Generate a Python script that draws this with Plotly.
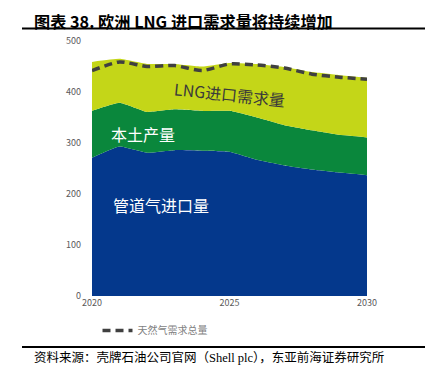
import plotly.graph_objects as go

years = [2020, 2021, 2022, 2023, 2024, 2025, 2026, 2027, 2028, 2029, 2030]
pipeline = [271, 293, 281, 286, 285, 283, 267, 256, 248, 242, 237]
domestic = [92, 86, 80, 80, 78, 80, 83, 79, 77, 74, 74]
lng = [96, 86, 94, 89, 87, 94, 105, 114, 114, 117, 117]
total_demand = [442, 459, 450, 452, 442, 455, 453, 447, 435, 429, 425]

series_names = ["管道气进口量", "本土产量", "LNG进口需求量"]
legend_name = "天然气需求总量"
title_text = "图表 38. 欧洲 LNG 进口需求量将持续增加"
source_text = "资料来源：壳牌石油公司官网（Shell plc），东亚前海证券研究所"
x_ticks = [2020, 2025, 2030]
y_ticks = [0, 100, 200, 300, 400, 500]

CJK = "Noto Sans CJK SC, sans-serif"

fig = go.Figure()
colors = ["#04388C", "#0A873C", "#C4D618"]
for name, vals, c in zip(series_names, [pipeline, domestic, lng], colors):
    fig.add_trace(go.Scatter(
        x=years, y=vals, name=name, stackgroup="one", mode="lines",
        line=dict(width=0, color=c, shape="spline", smoothing=0.4),
        fillcolor=c, showlegend=False, hoverinfo="skip"))

fig.add_trace(go.Scatter(
    x=years, y=total_demand, name=legend_name, mode="lines",
    line=dict(color="#404040", width=3.5, dash="8px,5px", shape="spline", smoothing=0.6),
    showlegend=True))

# page body has an 8px margin, so the figure is 8px smaller and everything is offset
fig.update_layout(
    width=430, height=367,
    margin=dict(l=84, r=71, t=33, b=79),
    paper_bgcolor="white", plot_bgcolor="white",
    font=dict(family=CJK, size=9, color="#595959"),
    xaxis=dict(range=[2020, 2030], tickvals=x_ticks, showgrid=False, zeroline=False,
               showline=False, ticks="", tickfont=dict(size=9, color="#595959")),
    yaxis=dict(range=[0, 500], tickvals=y_ticks, showgrid=True, gridcolor="#E6E6E6",
               zeroline=False, showline=False, ticks="", ticklabelstandoff=10,
               tickfont=dict(size=9, color="#595959")),
    showlegend=True,
    legend=dict(orientation="h", x=0.02, y=-0.135, xanchor="left", yanchor="middle",
                font=dict(size=10, color="#7F7F7F", family=CJK), bgcolor="rgba(0,0,0,0)",
                itemwidth=30),
)

# in-plot labels
fig.add_annotation(x=2025.0, y=396, xref="x", yref="y", text="LNG进口需求量", showarrow=False,
                   textangle=6, font=dict(size=16, color="#3A3A3A", family=CJK))
fig.add_annotation(x=2021.85, y=318, xref="x", yref="y", text="本土产量", showarrow=False,
                   font=dict(size=16, color="white", family=CJK))
fig.add_annotation(x=2022.5, y=178, xref="x", yref="y", text="管道气进口量", showarrow=False,
                   font=dict(size=16, color="white", family=CJK))

# title and source (positions relative to the plot area)
fig.add_annotation(x=(33 - 92) / 275, y=(296 - 8) / 255, xref="paper", yref="paper",
                   xanchor="left", yanchor="top", text="<b>" + title_text + "</b>",
                   showarrow=False, borderpad=0,
                   font=dict(size=16.2, color="black", family=CJK))
fig.add_shape(type="line", xref="paper", yref="paper",
              x0=(22 - 92) / 275, x1=(425 - 92) / 275,
              y0=(296 - 28.5) / 255, y1=(296 - 28.5) / 255,
              line=dict(color="black", width=2))
fig.add_shape(type="line", xref="paper", yref="paper",
              x0=(22 - 92) / 275, x1=(425 - 92) / 275,
              y0=(296 - 347) / 255, y1=(296 - 347) / 255,
              line=dict(color="black", width=2))
fig.add_annotation(x=(32 - 92) / 275, y=(296 - 357) / 255, xref="paper", yref="paper",
                   xanchor="left", yanchor="middle", text=source_text, showarrow=False,
                   font=dict(size=12.5, color="black", family="Liberation Serif, Noto Sans CJK SC"))

fig.write_html("out.html")
